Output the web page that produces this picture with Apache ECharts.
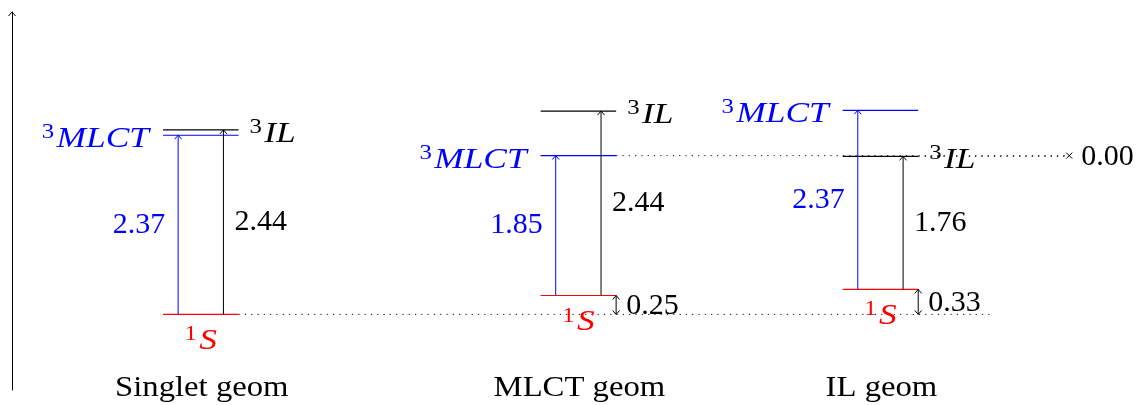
<!DOCTYPE html>
<html><head><meta charset="utf-8">
<script src="https://cdn.jsdelivr.net/npm/echarts@6/dist/echarts.min.js"></script>
<style>html,body{margin:0;padding:0;background:#fff}#c{width:1141px;height:405px}</style>
</head><body><div id="c"></div>
<script>
// ---- data ----
const geomLabels = ['Singlet geom', 'MLCT geom', 'IL geom'];
const geomX = [4, 14, 22];              // left end of each geometry's level block (x units)
const groundShift = [0, 0.25, 0.33];    // 1S energy relative to Singlet-geom ground state (eV)
const mlctGap = [2.37, 1.85, 2.37];     // 1S -> 3MLCT (eV)
const ilGap = [2.44, 2.44, 1.76];       // 1S -> 3IL (eV)
const refText = '0.00';                 // label at the reference marker
const yRange = [-1, 4];
const xRange = [0, 29];

// ---- style ----
const FAM = "'Liberation Serif', serif";
const FS = 30;
const BLUE = '#0000ff', RED = '#ff0000', BLACK = '#000000';
const WORD_SCALE = 1.18, LABEL_SCALE = 1.09;
const LEVEL_W = 2;

function txt(x, y, text, color, align, opts) {
  opts = opts || {};
  const st = {
    legacy: false,
    x: 0, y: 0, text: text, fill: color,
    fontFamily: FAM, fontSize: FS, fontStyle: opts.italic ? 'italic' : 'normal',
    align: align, verticalAlign: 'middle'
  };
  if (opts.rich) st.rich = opts.rich;
  return {type: 'text', x: x, y: y, scaleX: opts.scale || 1, z2: 10, style: st};
}
function supRich(color) {
  return {
    s: {fontFamily: FAM, fontSize: 21, fill: color, verticalAlign: 'top', lineHeight: 34, padding: [0, 2, 0, 0]},
    m: {fontFamily: FAM, fontSize: FS, fontStyle: 'italic', fill: color, lineHeight: 34}
  };
}
function seg(p1, p2, color, dash, w) {
  return {type: 'line', shape: {x1: p1[0], y1: p1[1], x2: p2[0], y2: p2[1]},
    style: {stroke: color, lineWidth: w || 1, lineDash: dash || null}};
}
function headUp(p, color) {
  return {type: 'polyline', shape: {points: [[p[0] - 3.5, p[1] + 4], [p[0], p[1]], [p[0] + 3.5, p[1] + 4]]},
    style: {stroke: color, lineWidth: 1, fill: null}};
}
function headDown(p, color) {
  return {type: 'polyline', shape: {points: [[p[0] - 3.5, p[1] - 4], [p[0], p[1]], [p[0] + 3.5, p[1] - 4]]},
    style: {stroke: color, lineWidth: 1, fill: null}};
}

function renderGeom(params, api) {
  const x0 = api.value(0), g = api.value(1), m = g + api.value(2), l = g + api.value(3);
  const i = params.dataIndex;
  const L = api.coord([x0, g])[0], R = api.coord([x0 + LEVEL_W, g])[0];
  const yG = api.coord([x0, g])[1], yM = api.coord([x0, m])[1], yL = api.coord([x0, l])[1];
  const y0 = api.coord([x0, 0])[1];
  const xb = api.coord([x0 + 0.4, 0])[0], xk = api.coord([x0 + 1.6, 0])[0];
  const cx = api.coord([x0 + LEVEL_W / 2, 0])[0];
  const yLab = api.coord([x0, yRange[0]])[1];
  const ch = [];
  ch.push(seg([L, yM], [R, yM], BLUE, null, 1.2));
  ch.push(seg([L, yL], [R, yL], BLACK, null, 1.2));
  ch.push(seg([L, yG], [R, yG], RED, null, 1.2));
  ch.push(seg([xb, yG], [xb, yM], BLUE)); ch.push(headUp([xb, yM], BLUE));
  ch.push(seg([xk, yG], [xk, yL], BLACK)); ch.push(headUp([xk, yL], BLACK));
  ch.push(txt(xb - 13, (yG + yM) / 2, api.value(2).toFixed(2), BLUE, 'right'));
  ch.push(txt(xk + 11, (yG + yL) / 2, api.value(3).toFixed(2), BLACK, 'left'));
  ch.push(txt(L - 14, yM + 4, '{s|3}{m|MLCT}', BLUE, 'right', {scale: WORD_SCALE, rich: supRich(BLUE)}));
  ch.push(txt(R + 11, yL + 4, '{s|3}{m|IL}', BLACK, 'left', {scale: WORD_SCALE, rich: supRich(BLACK)}));
  ch.push(txt(cx, yG + 27, '{s|1}{m|S}', RED, 'center', {scale: WORD_SCALE, rich: supRich(RED)}));
  if (g > 0) {
    ch.push(seg([R, yG], [R, y0], BLACK));
    ch.push(headUp([R, yG], BLACK)); ch.push(headDown([R, y0], BLACK));
    ch.push(txt(R + 10, (yG + y0) / 2 + 1, g.toFixed(2), BLACK, 'left'));
  }
  ch.push(txt(cx + 1, yLab - 2, geomLabels[i], BLACK, 'center', {scale: LABEL_SCALE}));
  return {type: 'group', children: ch};
}

function renderGuides(params, api) {
  const eMLCT = groundShift[1] + mlctGap[1];   // 3MLCT at MLCT geom
  const eIL = groundShift[2] + ilGap[2];       // 3IL at IL geom
  const ch = [];
  const DOT = [1.2, 5.1];
  const dotted = (p, q) => ({type: 'line', shape: {x1: p[0], y1: p[1], x2: q[0], y2: q[1]},
    style: {stroke: '#111', lineWidth: 1, lineDash: DOT}});
  ch.push(dotted(api.coord([geomX[0] + LEVEL_W, 0]), api.coord([26, 0])));
  const d = api.coord([28, eMLCT]);
  ch.push(dotted(api.coord([geomX[1] + LEVEL_W, eMLCT]), d));
  ch.push(dotted(api.coord([geomX[2] + LEVEL_W, eIL]), api.coord([28, eIL])));
  ch.push(seg([d[0] - 3, d[1] - 3], [d[0] + 3, d[1] + 3], BLACK));
  ch.push(seg([d[0] - 3, d[1] + 3], [d[0] + 3, d[1] - 3], BLACK));
  ch.push(txt(d[0] + 12, d[1] + 1, refText, BLACK, 'left'));
  const top = api.coord([0, yRange[1]]);
  ch.push(headUp(top, BLACK));
  return {type: 'group', children: ch};
}

const chart = echarts.init(document.getElementById('c'), null, {renderer: 'canvas'});
chart.setOption({
  animation: false,
  backgroundColor: '#fff',
  grid: {left: 12, top: 12, width: 1095, height: 378, containLabel: false},
  xAxis: {type: 'value', min: xRange[0], max: xRange[1], show: false},
  yAxis: {type: 'value', min: yRange[0], max: yRange[1],
    axisLine: {show: true, lineStyle: {color: '#000', width: 1}},
    axisTick: {show: false}, axisLabel: {show: false}, splitLine: {show: false}},
  series: [
    {type: 'custom', renderItem: renderGuides, data: [[0, 0]], silent: true, z: 1},
    {type: 'custom', renderItem: renderGeom, silent: true, z: 2,
      data: geomLabels.map((_, i) => [geomX[i], groundShift[i], mlctGap[i], ilGap[i]])}
  ]
});
</script></body></html>
